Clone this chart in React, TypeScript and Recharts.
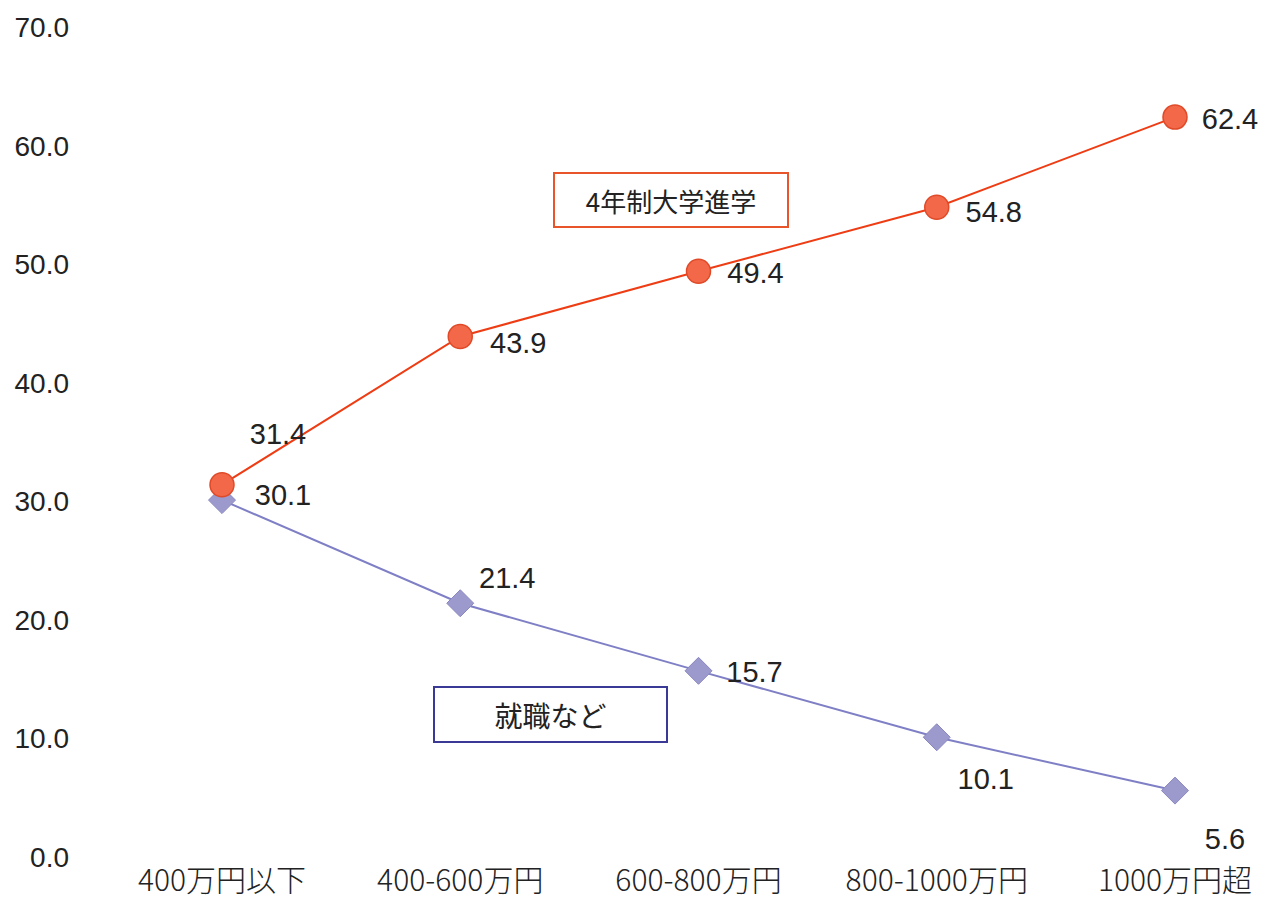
import React from "react";
import { LineChart, Line, XAxis, YAxis, LabelList } from "recharts";

const categories = ["400万円以下", "400-600万円", "600-800万円", "800-1000万円", "1000万円超"];
const university = [31.4, 43.9, 49.4, 54.8, 62.4];
const employment = [30.1, 21.4, 15.7, 10.1, 5.6];
const yTicks = [0, 10, 20, 30, 40, 50, 60, 70];

const data = categories.map((c, i) => ({ name: c, univ: university[i], emp: employment[i] }));

// label placement offsets (styling, relative to each point)
const univLabelOffsets = [[56, -51], [58, 7], [57, 2], [57, 5], [55, 2]];
const empLabelOffsets = [[61, -5], [47, -25], [56, 1], [49, 42], [50, 48]];

const FONT = "'Liberation Sans', Arial, sans-serif";
const JFONT = "'Noto Sans CJK JP', sans-serif";

const makeLabel = (offsets: number[][]) => (props: any) => {
  const { x, y, value, index } = props;
  const [dx, dy] = offsets[index];
  return (
    <text x={x + dx} y={y + dy} textAnchor="middle" dominantBaseline="central" fontSize={29} fontFamily={FONT} fill="#222">
      {Number(value).toFixed(1)}
    </text>
  );
};

const CircleDot = (props: any) => {
  const { cx, cy } = props;
  return <circle cx={cx} cy={cy} r={12} fill="#f26848" stroke="#e04a28" strokeWidth={1.5} />;
};

const DiamondDot = (props: any) => {
  const { cx, cy } = props;
  const r = 13.5;
  return (
    <polygon
      points={`${cx},${cy - r} ${cx + r},${cy} ${cx},${cy + r} ${cx - r},${cy}`}
      fill="#9c9acd"
      stroke="#8a88c0"
      strokeWidth={1}
    />
  );
};

export default function App() {
  return (
    <div style={{ position: "absolute", left: 0, top: 0, width: 1270, height: 921, background: "#fff" }}>
      <LineChart width={1270} height={921} data={data} margin={{ top: 27, right: 0, left: 0, bottom: 0 }}>
        <XAxis
          dataKey="name"
          axisLine={false}
          tickLine={false}
          tickSize={0}
          tickMargin={13}
          height={64}
          padding={{ left: 132, right: 95 }}
          interval={0}
          tick={{ fontSize: 30, fontFamily: JFONT, fill: "#222", fontWeight: 300 }}
        />
        <YAxis
          domain={[0, 70]}
          ticks={yTicks}
          axisLine={false}
          tickLine={false}
          tickSize={0}
          tickMargin={21}
          width={90}
          tickFormatter={(v: number) => v.toFixed(1)}
          tick={{ fontSize: 28, fontFamily: FONT, fill: "#222" }}
        />
        <Line
          type="linear"
          dataKey="emp"
          stroke="#7f7fc6"
          strokeWidth={2}
          dot={<DiamondDot />}
          isAnimationActive={false}
        >
          <LabelList dataKey="emp" content={makeLabel(empLabelOffsets)} />
        </Line>
        <Line
          type="linear"
          dataKey="univ"
          stroke="#ee3d14"
          strokeWidth={2}
          dot={<CircleDot />}
          isAnimationActive={false}
        >
          <LabelList dataKey="univ" content={makeLabel(univLabelOffsets)} />
        </Line>
      </LineChart>
      <div
        style={{
          position: "absolute", left: 553, top: 172, width: 232, height: 52,
          border: "2px solid #e8552a", display: "flex", alignItems: "center", justifyContent: "center",
          fontFamily: JFONT, fontSize: 26, color: "#222", background: "#fff",
        }}
      >
        4年制大学進学
      </div>
      <div
        style={{
          position: "absolute", left: 433, top: 686, width: 231, height: 53,
          border: "2px solid #3a3a96", display: "flex", alignItems: "center", justifyContent: "center",
          fontFamily: JFONT, fontSize: 28, color: "#222", background: "#fff",
        }}
      >
        就職など
      </div>
    </div>
  );
}
